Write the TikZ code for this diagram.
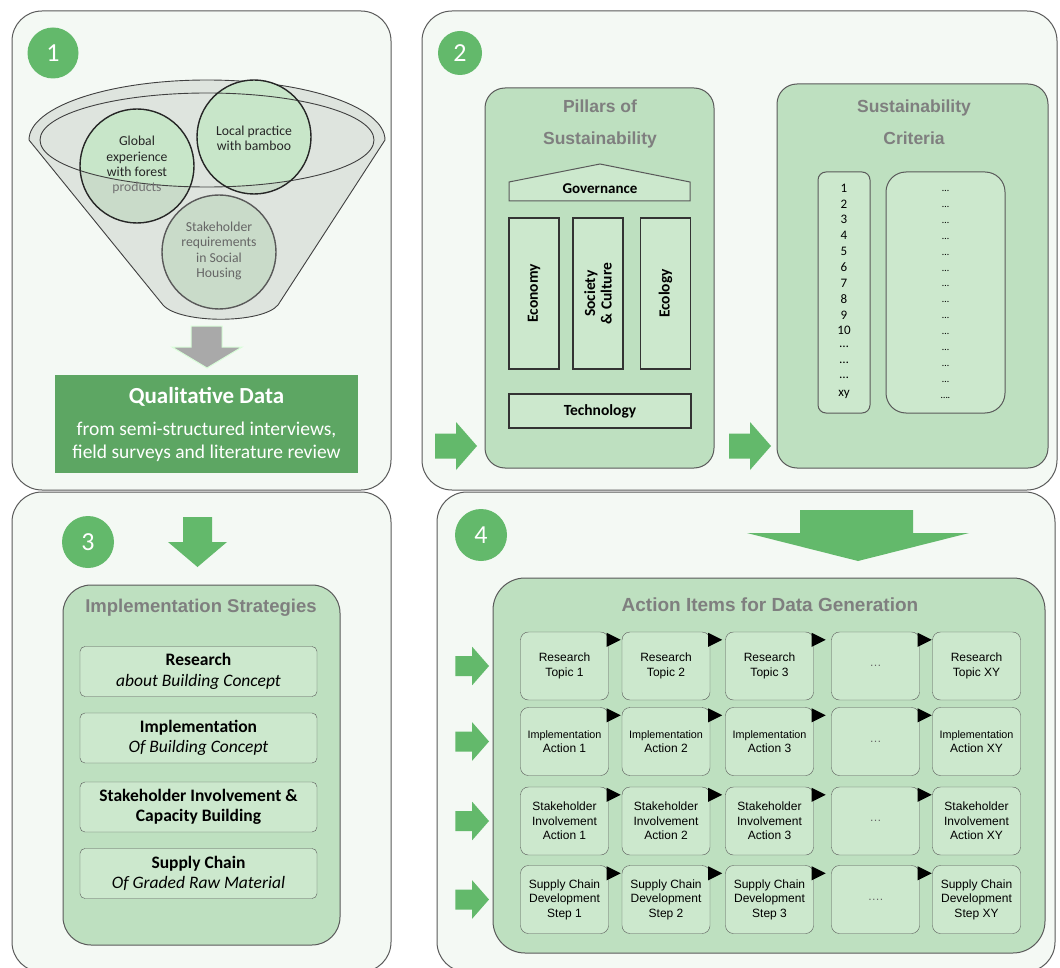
\documentclass[tikz,border=0pt]{standalone}
\usepackage{fontspec}
\setmainfont{Carlito}
\newfontfamily\arialfont{Liberation Sans}
\definecolor{panelbg}{HTML}{F4F9F4}
\definecolor{boxgreen}{HTML}{BEE0C0}
\definecolor{cellgreen}{HTML}{CCE8CD}
\definecolor{arrowgreen}{HTML}{63B96B}
\definecolor{datagreen}{HTML}{5DA663}
\definecolor{titlegray}{HTML}{7F7F7F}
\definecolor{linegray}{HTML}{5A5A5A}
\definecolor{funnelgray}{HTML}{DEE4DE}
\definecolor{circlegreen}{HTML}{C8E6C9}
\definecolor{circlegray}{HTML}{C9DBC9}
\definecolor{arrowgray}{HTML}{A9A9A9}
\tikzset{
  panel/.style={draw=linegray, fill=panelbg, line width=1pt, rounded corners=30pt},
  bigbox/.style={draw=linegray, fill=boxgreen, line width=1pt, rounded corners=20pt},
  numcircle/.style={circle, fill=arrowgreen, text=white, inner sep=0pt, minimum size=44pt, font=\fontsize{26}{26}\selectfont},
  boxtitle/.style={text=titlegray, align=center, font=\arialfont\bfseries\fontsize{17.5}{32}\selectfont},
  pillar/.style={draw=black!80, fill=cellgreen, line width=1.1pt, inner sep=0pt, minimum width=151pt, minimum height=50pt, align=center, font=\bfseries\fontsize{15.5}{16.5}\selectfont},
  listbox/.style={draw=linegray, fill=cellgreen, line width=1pt, inner sep=0pt},
  strategy/.style={draw=linegray, fill=cellgreen, rounded corners=5pt, inner sep=0pt, minimum width=237pt, minimum height=50pt, align=center, font=\fontsize{17.5}{20.5}\selectfont},
  cell/.style={draw=linegray, fill=cellgreen, rounded corners=8pt, inner sep=0pt, minimum width=88pt, minimum height=68pt, align=center, font=\arialfont\fontsize{12}{14.5}\selectfont},
  circletext/.style={align=center, font=\fontsize{13.7}{15.3}\selectfont, text=black!85},
}
\newcommand{\greenright}[3]{%
  \fill[arrowgreen, shift={(#1,#2)}, scale=#3] (-42,-12.5) -- (-21,-12.5) -- (-21,-24) -- (0,0)
    -- (-21,24) -- (-21,12.5) -- (-42,12.5) -- cycle;}
\begin{document}
\begin{tikzpicture}[x=1pt,y=-1pt]
\useasboundingbox (0,0) rectangle (1060,968);
\fill[white] (0,0) rectangle (1060,968);
% four panels
\draw[panel] (12,11) rectangle (391,490);
\draw[panel] (422,11) rectangle (1057,490);
\draw[panel] (12,492) rectangle (391,972);
\draw[panel] (437,492) rectangle (1055,972);
\node[numcircle, minimum size=51pt] (num1) at (53,53) {1};
\node[numcircle] (num2) at (460,53) {2};
\node[numcircle, minimum size=52pt] (num3) at (88,542) {3};
\node[numcircle, minimum size=52pt] (num4) at (481,535) {4};

% panel 1: funnel
\draw[draw=black!75, fill=funnelgray, line width=0.9pt] (29,140) arc[start angle=180, end angle=360, x radius=178, y radius=60]
  -- (278,305) .. controls (262,324) and (180,324) .. (163,305) -- cycle;
\fill[circlegray] (137,166) circle[radius=57];
\fill[circlegray] (254,137) circle[radius=57];
\fill[circlegray] (219,252) circle[radius=57];
\begin{scope}
\clip (40,0) -- (40,140) arc[start angle=180, end angle=0, x radius=167, y radius=47] -- (374,0) -- cycle;
\fill[circlegreen] (137,166) circle[radius=57];
\fill[circlegreen] (254,137) circle[radius=57];
\end{scope}
\draw[black!75, line width=0.9pt] (207,140) ellipse[x radius=167, y radius=47];
\draw[black!85, line width=1.4pt] (137,166) circle[radius=57];
\draw[black!85, line width=1.4pt] (254,137) circle[radius=57];
\draw[black!65, line width=1.4pt] (219,252) circle[radius=57];
\node[circletext] (global) at (137,165) {Global\\experience\\with forest\\\textcolor{black!55}{products}};
\node[circletext] (local) at (254,138) {Local practice\\with bamboo};
\node[circletext, text=black!60] (stake) at (219,251) {Stakeholder\\requirements\\in Social\\Housing};
\draw[draw=green!15, fill=arrowgray, line width=1pt] (191,326) -- (222,326) -- (222,347) -- (242,347)
  -- (207,368) -- (172,347) -- (191,347) -- cycle;
\node[fill=datagreen, inner sep=0pt, minimum width=303pt, minimum height=98pt] (qual) at (206.5,424) {};
\node[text=white, font=\bfseries\fontsize{23}{26}\selectfont] (qualtitle) at (206.5,397) {Qualitative Data};
\node[text=white, align=center, font=\fontsize{19.5}{23}\selectfont] (qualtext) at (206.5,442) {from semi-structured interviews,\\field surveys and literature review};

% panel 2: pillars
\draw[bigbox] (485,88) rectangle (714,468);
\node[boxtitle] (pillartitle) at (600,124) {Pillars of\\Sustainability};
\draw[draw=linegray, fill=cellgreen, line width=1pt] (509,201) -- (509,182) -- (600,164) -- (690,182) -- (690,201) -- cycle;
\node[font=\bfseries\fontsize{15}{16}\selectfont] (governance) at (600,189) {Governance};
\node[pillar, rotate=90] (economy) at (534,293.5) {Economy};
\node[pillar, rotate=90] (society) at (598,293.5) {Society\\\& Culture};
\node[pillar, rotate=90] (ecology) at (665.5,293.5) {Ecology};
\node[pillar, minimum width=182pt, minimum height=34pt] (technology) at (600,411) {Technology};
\greenright{477}{446}{1}
\greenright{771}{446}{1}

% panel 2: criteria
\draw[bigbox] (777,84) rectangle (1048,468);
\node[boxtitle] (criteriatitle) at (914,122) {Sustainability\\Criteria};
\node[listbox, rounded corners=8pt, minimum width=52pt, minimum height=241pt] (numlist) at (844,292.5) {};
\node[listbox, rounded corners=20pt, minimum width=119pt, minimum height=241pt] (dotlist) at (945.5,292.5) {};
\foreach \t [count=\i from 0] in {1,2,3,4,5,6,7,8,9,10,…,…,…,xy}
  \node[font=\fontsize{13}{13}\selectfont] (num\i) at (844,188+15.85*\i) {\t};
\foreach \i in {0,...,12}
  \node[font=\fontsize{10}{10}\selectfont] (dot\i) at (945.5,191+15.9*\i) {…};
\node[font=\fontsize{10}{10}\selectfont] (dot13) at (945.5,398) {….};

% panel 3: strategies
\fill[arrowgreen] (183,517) -- (212,517) -- (212,542) -- (227,542) -- (197.5,567) -- (168,542) -- (183,542) -- cycle;
\draw[bigbox, rounded corners=28pt] (63,585) rectangle (340,945);
\node[boxtitle, font=\arialfont\bfseries\fontsize{18.5}{22}\selectfont] (strattitle) at (201,608) {Implementation Strategies};
\node[strategy] (research) at (198.5,671.5) {\textbf{Research}\\\textit{about Building Concept}};
\node[strategy] (implement) at (198.5,738) {\textbf{Implementation}\\\textit{Of Building Concept}};
\node[strategy] (involve) at (198.5,807) {\textbf{Stakeholder Involvement \&}\\\textbf{Capacity Building}};
\node[strategy] (supply) at (198.5,873.5) {\textbf{Supply Chain}\\\textit{Of Graded Raw Material}};

% panel 4: action items
\fill[arrowgreen] (800,510) -- (913,510) -- (913,533) -- (969,533) -- (858,561) -- (747,533) -- (800,533) -- cycle;
\draw[bigbox, rounded corners=32pt] (493,578) rectangle (1045,953);
\node[boxtitle, font=\arialfont\bfseries\fontsize{19}{22}\selectfont] (actiontitle) at (770,605) {Action Items for Data Generation};
\foreach \x/\n/\t in {564.5/1/{Research\\Topic 1},666/2/{Research\\Topic 2},769.5/3/{Research\\Topic 3},875.5/4/{\textcolor{black!60}{…}},976.5/5/{Research\\Topic XY}}
  \node[cell] (topic\n) at (\x,666) {\t};
\foreach \x/\n/\t in {564.5/1/{{\fontsize{10.8}{13}\selectfont Implementation}\\Action 1},666/2/{{\fontsize{10.8}{13}\selectfont Implementation}\\Action 2},769.5/3/{{\fontsize{10.8}{13}\selectfont Implementation}\\Action 3},875.5/4/{\textcolor{black!60}{…}},976.5/5/{{\fontsize{10.8}{13}\selectfont Implementation}\\Action XY}}
  \node[cell] (action\n) at (\x,741.5) {\t};
\foreach \x/\n/\t in {564.5/1/{Stakeholder\\Involvement\\Action 1},666/2/{Stakeholder\\Involvement\\Action 2},769.5/3/{Stakeholder\\Involvement\\Action 3},875.5/4/{\textcolor{black!60}{…}},976.5/5/{Stakeholder\\Involvement\\Action XY}}
  \node[cell] (involve\n) at (\x,821) {\t};
\foreach \x/\n/\t in {564.5/1/{Supply Chain\\Development\\Step 1},666/2/{Supply Chain\\Development\\Step 2},769.5/3/{Supply Chain\\Development\\Step 3},875.5/4/{\textcolor{black!60}{….}},976.5/5/{Supply Chain\\Development\\Step XY}}
  \node[cell] (step\n) at (\x,899.5) {\t};
\foreach \r in {topic,action,involve,step}
  \foreach \n in {1,...,4}
    \fill (\r\n.north east) ++(-2,1) -- ++(0,14) -- ++(14,-7) -- cycle;
\foreach \y in {666,741.5,821,899.5}
  {\greenright{489}{\y}{0.8}}
\end{tikzpicture}
\end{document}
